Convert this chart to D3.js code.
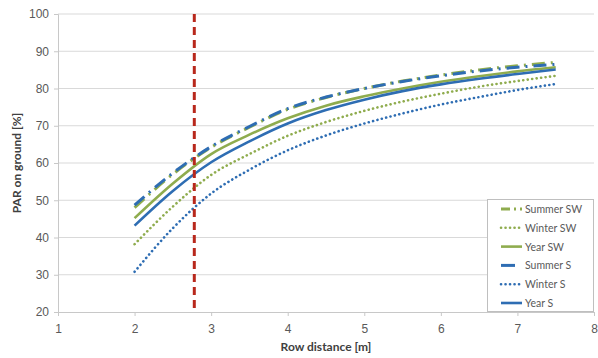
<!DOCTYPE html>
<html><head><meta charset="utf-8">
<script src="https://cdn.jsdelivr.net/npm/d3@7"></script>
<style>body{margin:0;background:#fff;}svg{display:block;font-family:Lato,"Open Sans",sans-serif;}</style>
</head><body>
<svg id="c" width="598" height="358"></svg>
<script>
const rowDistance = [2, 2.5, 3, 3.5, 4, 4.5, 5, 5.5, 6, 6.5, 7, 7.5];
const summerSW = [48.0, 57.0, 64.2, 69.6, 74.4, 77.6, 80.0, 82.0, 83.6, 85.0, 86.1, 87.0];
const winterSW = [38.2, 48.3, 56.8, 62.4, 67.3, 71.0, 74.0, 76.5, 78.6, 80.5, 82.0, 83.4];
const yearSW   = [45.2, 54.5, 62.4, 67.6, 72.0, 75.4, 77.9, 80.0, 81.8, 83.3, 84.6, 85.7];
const summerS  = [48.7, 57.3, 64.4, 69.8, 74.6, 77.7, 80.0, 81.9, 83.4, 84.7, 85.7, 86.5];
const winterS  = [30.8, 42.5, 51.8, 58.2, 63.4, 67.4, 70.6, 73.3, 75.7, 77.7, 79.6, 81.2];
const yearS    = [43.2, 52.5, 60.2, 65.8, 70.6, 74.2, 77.0, 79.3, 81.1, 82.6, 83.9, 85.1];
const seriesNames = ["Summer SW", "Winter SW", "Year SW", "Summer S", "Winter S", "Year S"];
const xTicks = [1, 2, 3, 4, 5, 6, 7, 8];
const yTicks = [20, 30, 40, 50, 60, 70, 80, 90, 100];
const markerX = 2.78;

const green = "#8fac4e", blue = "#2e6db3";
const styles = [
  {color: green, width: 3, dash: "13,6,2,6", cap: "butt"},
  {color: green, width: 2.6, dash: "0.1,4.4", cap: "round"},
  {color: green, width: 2.6, dash: null, cap: "butt"},
  {color: blue, width: 3, dash: "13,6,2,6", cap: "butt"},
  {color: blue, width: 2.6, dash: "0.1,4.4", cap: "round"},
  {color: blue, width: 2.6, dash: null, cap: "butt"}
];
const seriesData = [summerSW, winterSW, yearSW, summerS, winterS, yearS];

const svg = d3.select("#c");
const x = d3.scaleLinear().domain([1, 8]).range([58, 594]);
const y = d3.scaleLinear().domain([20, 100]).range([312, 14]);

// gridlines
svg.append("g").selectAll("line").data(yTicks.slice(1)).join("line")
  .attr("x1", x(1)).attr("x2", x(8)).attr("y1", d => y(d)).attr("y2", d => y(d))
  .attr("stroke", "#d9d9d9").attr("stroke-width", 1.2);

// y axis
const yAxis = svg.append("g").attr("transform", `translate(${x(1)},0)`)
  .call(d3.axisLeft(y).tickValues(yTicks).tickFormat(d3.format("d")).tickSize(4).tickPadding(5));
yAxis.select(".domain").attr("stroke", "#c8c8c8");
yAxis.selectAll(".tick line").attr("stroke", "#c8c8c8");
yAxis.selectAll("text").attr("fill", "#595959").style("font-size", "12px");

// x axis
const xAxis = svg.append("g").attr("transform", `translate(0,${y(20)})`)
  .call(d3.axisBottom(x).tickValues(xTicks).tickFormat(d3.format("d")).tickSize(4).tickPadding(8));
xAxis.select(".domain").attr("stroke", "#c8c8c8");
xAxis.selectAll(".tick line").attr("stroke", "#c8c8c8");
xAxis.selectAll("text").attr("fill", "#595959").style("font-size", "12px");

// series
const line = d3.line().x((d, i) => x(rowDistance[i])).y(d => y(d)).curve(d3.curveMonotoneX);
seriesData.forEach((s, k) => {
  const st = styles[k];
  svg.append("path").attr("d", line(s)).attr("fill", "none")
    .attr("stroke", st.color).attr("stroke-width", st.width)
    .attr("stroke-dasharray", st.dash).attr("stroke-linecap", st.cap);
});

// red marker line
svg.append("line").attr("x1", x(markerX)).attr("x2", x(markerX))
  .attr("y1", y(100)).attr("y2", y(20))
  .attr("stroke", "#b8281c").attr("stroke-width", 3).attr("stroke-dasharray", "8,5");

// legend
const lg = svg.append("g");
lg.append("rect").attr("x", 487.5).attr("y", 199.5).attr("width", 106).attr("height", 112)
  .attr("fill", "#fff").attr("stroke", "#bfbfbf");
seriesNames.forEach((n, k) => {
  const st = styles[k];
  const ly = 209 + k * 18.8;
  lg.append("line").attr("x1", 501).attr("x2", 522).attr("y1", ly).attr("y2", ly)
    .attr("stroke", st.color).attr("stroke-width", st.width)
    .attr("stroke-dasharray", k === 0 ? "9,4,2,4" : (k === 3 ? "14,10" : st.dash))
    .attr("stroke-linecap", st.cap);
  lg.append("text").attr("x", 525).attr("y", ly + 4).text(n)
    .attr("fill", "#595959").style("font-size", "10.5px");
});

// axis titles
svg.append("text").attr("x", x(4.5)).attr("y", 351).attr("text-anchor", "middle")
  .style("font-size", "12px").style("font-weight", "bold").attr("fill", "#404040")
  .text("Row distance [m]");
svg.append("text").attr("transform", `translate(21,${y(60)}) rotate(-90)`)
  .attr("text-anchor", "middle").style("font-size", "12px").style("font-weight", "bold")
  .attr("fill", "#404040").text("PAR on ground [%]");
</script>
</body></html>
